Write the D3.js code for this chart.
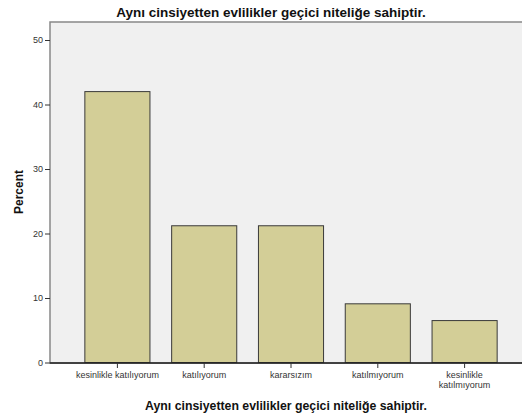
<!DOCTYPE html>
<html lang="tr">
<head>
<meta charset="utf-8">
<title>Aynı cinsiyetten evlilikler</title>
<script src="https://d3js.org/d3.v7.min.js"></script>
<style>
  body { margin: 0; background: #fff; font-family: Arial, "Liberation Sans", sans-serif; }
  svg { display: block; }
  .tick text { fill: #333; font-size: 9px; }
</style>
</head>
<body>
<div id="chart"></div>
<script>
// data
var categories = ["kesinlikle katılıyorum", "katılıyorum", "kararsızım", "katılmıyorum", "kesinlikle katılmıyorum"];
var percents = [42.0, 21.2, 21.2, 9.1, 6.5];
var yTicks = [0, 10, 20, 30, 40, 50];
var chartTitle = "Aynı cinsiyetten evlilikler geçici niteliğe sahiptir.";
var yTitle = "Percent";

var W = 522, H = 419;
var plot = {left: 50, top: 22, right: 532, bottom: 363};

var svg = d3.select("#chart").append("svg")
  .attr("width", W)
  .attr("height", H);

// plot background + frame
svg.append("rect")
  .attr("x", plot.left)
  .attr("y", plot.top)
  .attr("width", plot.right - plot.left)
  .attr("height", plot.bottom - plot.top)
  .attr("fill", "#f0f0f0")
  .attr("stroke", "#888")
  .attr("stroke-width", 1.5);

var x = d3.scaleBand()
  .domain(categories)
  .range([74, 508])
  .paddingInner(0.25)
  .paddingOuter(0.125);

var y = d3.scaleLinear()
  .domain([0, 50])
  .range([362.5, 40]);

// bars
svg.selectAll("rect.bar")
  .data(percents)
  .enter()
  .append("rect")
    .attr("class", "bar")
    .attr("x", function(d, i) { return x(categories[i]); })
    .attr("y", function(d) { return y(d); })
    .attr("width", x.bandwidth())
    .attr("height", function(d) { return y(0) - y(d); })
    .attr("fill", "#d3ce97")
    .attr("stroke", "#3a3a3a")
    .attr("stroke-width", 1);

// y axis
var yAxis = svg.append("g")
  .attr("transform", "translate(" + plot.left + ",0)")
  .call(d3.axisLeft(y).tickValues(yTicks).tickSize(5).tickPadding(2));
yAxis.select(".domain").remove();
yAxis.selectAll(".tick line").attr("stroke", "#333");

// x axis
var xAxis = svg.append("g")
  .attr("transform", "translate(0," + 363 + ")")
  .call(d3.axisBottom(x).tickSize(5).tickPadding(4));
xAxis.select(".domain")
  .attr("d", "M" + plot.left + ",0H" + W)
  .attr("stroke", "#222")
  .attr("stroke-width", 1.5);
xAxis.selectAll(".tick line").attr("stroke", "#333");

// wrap the last label onto two lines
xAxis.selectAll(".tick text").each(function(d) {
  if (d === "kesinlikle katılmıyorum") {
    var t = d3.select(this).text(null);
    t.append("tspan").attr("x", 0).attr("dy", "0.71em").text("kesinlikle");
    t.append("tspan").attr("x", 0).attr("dy", "1.05em").text("katılmıyorum");
    t.attr("dy", null);
  }
});

// titles
svg.append("text")
  .attr("x", 271)
  .attr("y", 17)
  .attr("text-anchor", "middle")
  .attr("font-size", "13.5px")
  .attr("font-weight", "bold")
  .attr("fill", "#111")
  .text(chartTitle);

svg.append("text")
  .attr("x", 286)
  .attr("y", 410)
  .attr("text-anchor", "middle")
  .attr("font-size", "12.3px")
  .attr("font-weight", "bold")
  .attr("fill", "#111")
  .text(chartTitle);

svg.append("text")
  .attr("transform", "translate(23," + 192 + ") rotate(-90)")
  .attr("text-anchor", "middle")
  .attr("font-size", "12px")
  .attr("font-weight", "bold")
  .attr("fill", "#111")
  .text(yTitle);
</script>
</body>
</html>
